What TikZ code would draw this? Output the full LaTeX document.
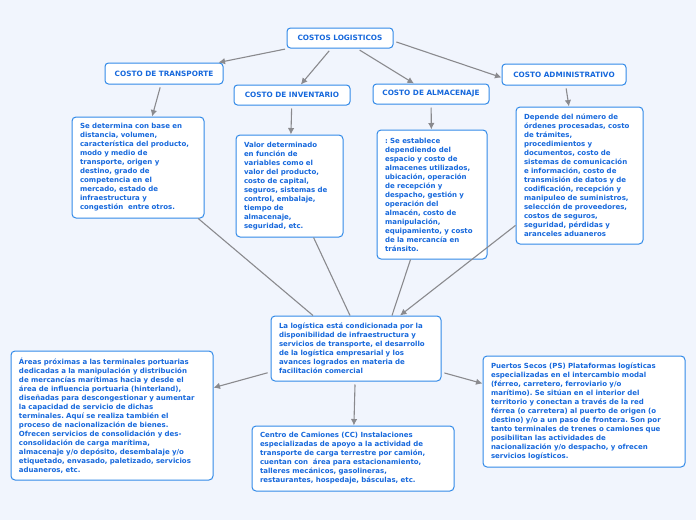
\documentclass[tikz,border=0pt]{standalone}
\usepackage{fontspec}
\setmainfont{DejaVu Sans}
\usepackage{tikz}
\usetikzlibrary{positioning,arrows.meta,calc}
\frenchspacing

\definecolor{bgc}{RGB}{241,245,253}
\definecolor{boxline}{RGB}{50,138,232}
\definecolor{boxtext}{RGB}{22,104,220}
\definecolor{linkc}{RGB}{138,138,142}

\begin{document}
\begin{tikzpicture}[
  x=1pt, y=-1pt,
  font=\fontsize{7}{9}\selectfont\bfseries,
  head/.style={draw=boxline, fill=white, line width=1pt, rounded corners=3.5pt,
    text=boxtext, minimum height=20pt, inner sep=0pt, align=center,
    font=\fontsize{7.3}{9}\selectfont\bfseries},
  desc/.style={draw=boxline, fill=white, line width=1pt, rounded corners=4pt,
    text=boxtext, inner xsep=8pt, inner ysep=0pt, align=left},
  link/.style={draw=linkc, line width=1.1pt},
  arr/.style={link, -{Latex[length=6.5pt,width=6.5pt]}}
]
% background and size
\fill[bgc] (0,0) rectangle (696,520);

% headers
\node[head, minimum width=106pt] (root) at (340,38) {COSTOS LOGISTICOS};
\node[head, minimum width=118pt, minimum height=21pt] (trans) at (164,73.5) {COSTO DE TRANSPORTE};
\node[head, minimum width=116pt] (inv) at (292,95) {COSTO DE INVENTARIO};
\node[head, minimum width=116pt] (alm) at (431,94) {COSTO DE ALMACENAJE};
\node[head, minimum width=124pt, minimum height=21pt] (adm) at (564,74.5) {COSTO ADMINISTRATIVO};

% descriptions
\node[desc, text width=116pt, minimum height=101pt] (transtxt) at (138,167.5) {Se determina con base en\\distancia, volumen,\\característica del producto,\\modo y medio de\\transporte, origen y\\destino, grado de\\competencia en el\\mercado, estado de\\infraestructura y\\congestión\ \ entre otros.};
\node[desc, text width=91pt, minimum height=102pt] (invtxt) at (289.5,186) {Valor determinado\\en función de\\variables como el\\valor del producto,\\costo de capital,\\seguros, sistemas de\\control, embalaje,\\tiempo de\\almacenaje,\\seguridad, etc.};
\node[desc, text width=94pt, minimum height=129pt] (almtxt) at (432,194.5) {: Se establece\\dependiendo del\\espacio y costo de\\almacenes utilizados,\\ubicación, operación\\de recepción y\\despacho, gestión y\\operación del\\almacén, costo de\\manipulación,\\equipamiento, y costo\\de la mercancía en\\tránsito.};
\node[desc, text width=111pt, minimum height=137pt] (admtxt) at (579.5,175.5) {Depende del número de\\órdenes procesadas, costo\\de trámites,\\procedimientos y\\documentos, costo de\\sistemas de comunicación\\e información, costo de\\transmisión de datos y de\\codificación, recepción y\\manipuleo de suministros,\\selección de proveedores,\\costos de seguros,\\seguridad, pérdidas y\\aranceles aduaneros};

% centre and lower boxes
\node[desc, text width=154pt, minimum height=65pt] (ctr) at (356,348.5) {La logística está condicionada por la\\disponibilidad de infraestructura y\\servicios de transporte, el desarrollo\\de la logística empresarial y los\\avances logrados en materia de\\facilitación comercial};
\node[desc, text width=186pt, minimum height=129pt] (zal) at (112,415.5) {Áreas próximas a las terminales portuarias\\dedicadas a la manipulación y distribución\\de mercancías marítimas hacia y desde el\\área de influencia portuaria (hinterland),\\diseñadas para descongestionar y aumentar\\la capacidad de servicio de dichas\\terminales. Aquí se realiza también el\\proceso de nacionalización de bienes.\\Ofrecen servicios de consolidación y des-\\consolidación de carga marítima,\\almacenaje y/o depósito, desembalaje y/o\\etiquetado, envasado, paletizado, servicios\\aduaneros, etc.};
\node[desc, text width=186pt, minimum height=65pt] (cc) at (353,458.5) {Centro de Camiones (CC) Instalaciones\\especializadas de apoyo a la actividad de\\transporte de carga terrestre por camión,\\cuentan con\ \ área para estacionamiento,\\talleres mecánicos, gasolineras,\\restaurantes, hospedaje, básculas, etc.};
\node[desc, text width=186pt, minimum height=111pt] (ps) at (584,411.5) {Puertos Secos (PS) Plataformas logísticas\\especializadas en el intercambio modal\\(férreo, carretero, ferroviario y/o\\marítimo). Se sitúan en el interior del\\territorio y conectan a través de la red\\férrea (o carretera) al puerto de origen (o\\destino) y/o a un paso de frontera. Son por\\tanto terminales de trenes o camiones que\\posibilitan las actividades de\\nacionalización y/o despacho, y ofrecen\\servicios logísticos.};

% connectors
\draw[arr, shorten <=3pt] (root) -- (trans);
\draw[arr, shorten <=3pt] (root) -- (inv);
\draw[arr, shorten <=3pt] (root) -- (alm);
\draw[arr, shorten <=3pt] ([yshift=-3pt]root.east) -- ([yshift=-3pt]adm.west);
\draw[arr, shorten <=3pt] (trans) -- (transtxt);
\draw[arr, shorten <=3pt] (inv) -- (invtxt);
\draw[arr, shorten <=3pt] (alm) -- (almtxt);
\draw[arr, shorten <=3pt] (adm) -- (admtxt);
\draw[link] (transtxt) -- ([xshift=-43pt]ctr.north);
\draw[link] (invtxt) -- ([xshift=-6pt]ctr.north);
\draw[link] (almtxt) -- ([xshift=36pt]ctr.north);
\draw[arr] (admtxt) -- ([xshift=44pt]ctr.north);
\draw[arr, shorten <=3pt] (ctr) -- (zal);
\draw[arr, shorten <=3pt] (ctr) -- (cc);
\draw[arr, shorten <=3pt] (ctr) -- (ps);
\end{tikzpicture}
\end{document}
